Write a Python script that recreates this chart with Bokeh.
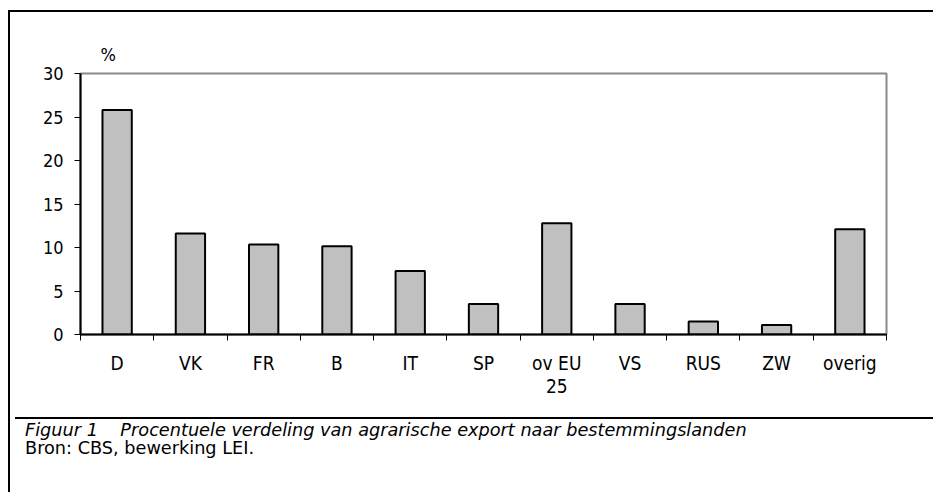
from bokeh.plotting import figure
from bokeh.models import Range1d, FixedTicker, Title, Div
from bokeh.layouts import column
from bokeh.embed import file_html
from bokeh.resources import INLINE

categories = ["D", "VK", "FR", "B", "IT", "SP", "ov EU\n25", "VS", "RUS", "ZW", "overig"]
values = [25.8, 11.6, 10.35, 10.15, 7.3, 3.5, 12.8, 3.5, 1.5, 1.1, 12.1]
y_ticks = [0, 5, 10, 15, 20, 25, 30]
caption_title = "Figuur 1&nbsp;&nbsp;&nbsp;&nbsp;Procentuele verdeling van agrarische export naar bestemmingslanden"
caption_source = "Bron: CBS, bewerking LEI."

FONT = "'DejaVu Sans Condensed', 'Liberation Sans', sans-serif"

n = len(categories)
centers = [i + 0.5 for i in range(n)]

p = figure(width=923, height=400, output_backend="svg", toolbar_location=None,
           x_range=Range1d(0, n), y_range=Range1d(0, 30),
           min_border_left=70, min_border_right=47, min_border_top=61, min_border_bottom=78)
p.background_fill_color = "white"
p.border_fill_color = "white"
p.outline_line_color = "#8a8a8a"
p.outline_line_width = 2
p.xgrid.visible = False
p.ygrid.visible = False

p.vbar(x=centers, top=values, width=0.4, bottom=0,
       fill_color="#c0c0c0", line_color="black", line_width=2)

# x axis
p.xaxis.ticker = FixedTicker(ticks=centers, minor_ticks=list(range(n + 1)))
p.xaxis.major_label_overrides = {c: lab for c, lab in zip(centers, categories)}
p.xaxis.major_tick_line_color = None
p.xaxis.minor_tick_line_color = "black"
p.xaxis.minor_tick_line_width = 1
p.xaxis.minor_tick_out = 6
p.xaxis.minor_tick_in = 0
p.xaxis.axis_line_color = "black"
p.xaxis.axis_line_width = 2
p.xaxis.major_label_text_font = FONT
p.xaxis.major_label_text_font_size = "19px"
p.xaxis.major_label_text_color = "black"
p.xaxis.major_label_standoff = 11
p.xaxis.major_label_text_line_height = 1.05

# y axis
p.yaxis.ticker = FixedTicker(ticks=y_ticks)
p.yaxis.minor_tick_line_color = None
p.yaxis.major_tick_line_color = "black"
p.yaxis.major_tick_line_width = 1
p.yaxis.major_tick_out = 6
p.yaxis.major_tick_in = 0
p.yaxis.axis_line_color = "black"
p.yaxis.axis_line_width = 2
p.yaxis.major_label_text_font = FONT
p.yaxis.major_label_text_font_size = "18px"
p.yaxis.major_label_text_color = "black"
p.yaxis.major_label_standoff = 11

pct = Title(text="%", align="left", offset=20, standoff=18,
            text_font=FONT, text_font_size="18px", text_font_style="normal",
            text_color="black")
p.add_layout(pct, "above")

div = Div(text=f'<div style="font-family:\'DejaVu Sans\',\'Liberation Sans\',sans-serif;font-size:17.7px;line-height:18px;color:black;padding:2px 0 0 10px;white-space:nowrap;">'
               f'<i>{caption_title}</i><br>{caption_source}</div>',
          width=923, height=70,
          styles={"border-top": "2px solid black"})

layout = column(p, div, margin=(10, 0, 0, 8),
                styles={"border-left": "2px solid black", "border-top": "2px solid black"})

open("out.html", "w").write(file_html(layout, INLINE))
